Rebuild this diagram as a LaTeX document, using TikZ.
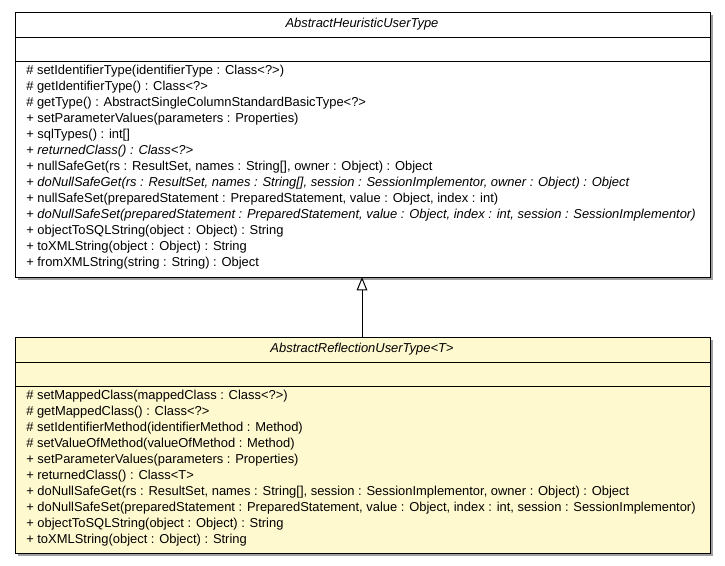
\documentclass[tikz,border=0pt]{standalone}
\usepackage{fontspec}
\setmainfont{Liberation Sans}
\usetikzlibrary{arrows.meta}
\definecolor{noteyellow}{RGB}{255,249,207}
\definecolor{shadowgray}{RGB}{160,160,160}
\tikzset{
  umlbox/.style={draw=black, line width=0.75pt},
  umlshadow/.style={fill=shadowgray, draw=none},
  member/.style={anchor=west, inner sep=0pt, font=\fontsize{9.7pt}{11pt}\selectfont},
  ctitle/.style={inner sep=0pt, font=\fontsize{9.7pt}{11pt}\selectfont\itshape},
  inherit/.style={-{Triangle[open, length=10pt, width=8pt]}, line width=0.75pt},
}
\begin{document}
\begin{tikzpicture}[x=0.75pt, y=-0.75pt]
\useasboundingbox (0,0) rectangle (725,565);
% top class
\fill[umlshadow] (18,15) rectangle (712.5,279.5);
\filldraw[umlbox, fill=white] (15,12) rectangle (710,277);
\draw[umlbox] (15,37) -- (710,37);
\draw[umlbox] (15,61) -- (710,61);
\node[ctitle] (top) at (362,24.5) {AbstractHeuristicUserType};
\coordinate (topbottom) at (362,277);
\node[member] (t1) at (26,71.5) {\# setIdentifierType(identifierType : Class<?>)};
\node[member] (t2) at (26,87.5) {\# getIdentifierType() : Class<?>};
\node[member] (t3) at (26,103.5) {\# getType() : AbstractSingleColumnStandardBasicType<?>};
\node[member] (t4) at (26,119.5) {+ setParameterValues(parameters : Properties)};
\node[member] (t5) at (26,135.5) {+ sqlTypes() : int[]};
\node[member] (t6) at (26,151.5) {+ \textit{returnedClass() : Class<?>}};
\node[member] (t7) at (26,167.5) {+ nullSafeGet(rs : ResultSet, names : String[], owner : Object) : Object};
\node[member] (t8) at (26,183.5) {+ \textit{doNullSafeGet(rs : ResultSet, names : String[], session : SessionImplementor, owner : Object) : Object}};
\node[member] (t9) at (26,199.5) {+ nullSafeSet(preparedStatement : PreparedStatement, value : Object, index : int)};
\node[member] (t10) at (26,215.5) {+ \textit{doNullSafeSet(preparedStatement : PreparedStatement, value : Object, index : int, session : SessionImplementor)}};
\node[member] (t11) at (26,231.5) {+ objectToSQLString(object : Object) : String};
\node[member] (t12) at (26,247.5) {+ toXMLString(object : Object) : String};
\node[member] (t13) at (26,263.5) {+ fromXMLString(string : String) : Object};
% bottom class
\fill[umlshadow] (18,340) rectangle (712.5,555.5);
\filldraw[umlbox, fill=noteyellow] (15,337) rectangle (710,553);
\draw[umlbox] (15,362) -- (710,362);
\draw[umlbox] (15,386) -- (710,386);
\node[ctitle] (bot) at (362,349.5) {AbstractReflectionUserType<T>};
\coordinate (bottop) at (362,337);
\node[member] (b1) at (26,396.5) {\# setMappedClass(mappedClass : Class<?>)};
\node[member] (b2) at (26,412.5) {\# getMappedClass() : Class<?>};
\node[member] (b3) at (26,428.5) {\# setIdentifierMethod(identifierMethod : Method)};
\node[member] (b4) at (26,444.5) {\# setValueOfMethod(valueOfMethod : Method)};
\node[member] (b5) at (26,460.5) {+ setParameterValues(parameters : Properties)};
\node[member] (b6) at (26,476.5) {+ returnedClass() : Class<T>};
\node[member] (b7) at (26,492.5) {+ doNullSafeGet(rs : ResultSet, names : String[], session : SessionImplementor, owner : Object) : Object};
\node[member] (b8) at (26,508.5) {+ doNullSafeSet(preparedStatement : PreparedStatement, value : Object, index : int, session : SessionImplementor)};
\node[member] (b9) at (26,524.5) {+ objectToSQLString(object : Object) : String};
\node[member] (b10) at (26,540.5) {+ toXMLString(object : Object) : String};
% generalization
\draw[inherit] (bottop) -- (topbottom);
\end{tikzpicture}
\end{document}
